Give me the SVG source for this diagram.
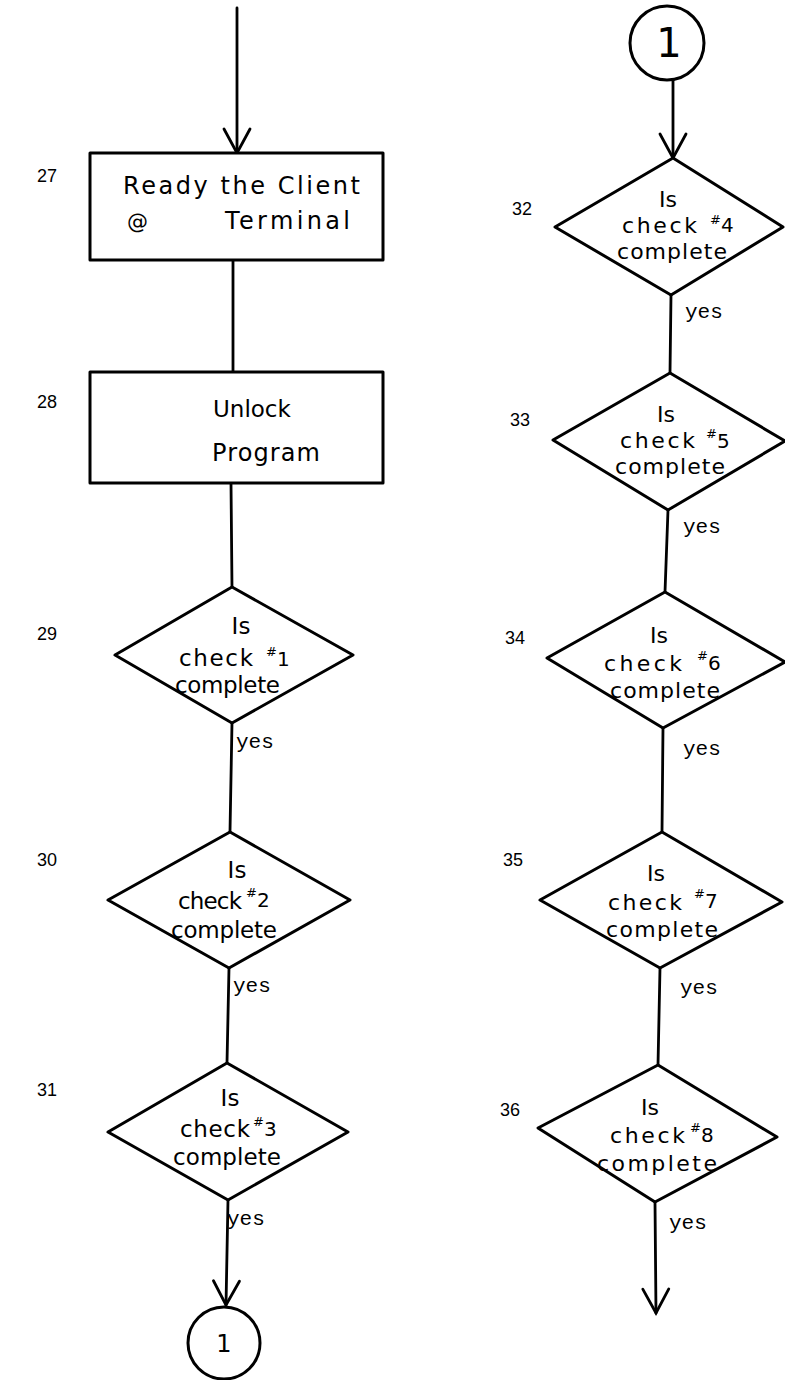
<svg xmlns="http://www.w3.org/2000/svg" width="785" height="1380" viewBox="0 0 785 1380">
<style>
.shape{fill:#fff;stroke:#000;stroke-width:3;stroke-linejoin:round}
.line{fill:none;stroke:#000;stroke-width:2.8;stroke-linecap:round}
.hand{font-family:"DejaVu Sans","Liberation Sans",sans-serif;fill:#000}
.num{font-family:"Liberation Sans",Arial,sans-serif;font-size:18px;fill:#000}
.yes{font-family:"Liberation Mono","Courier New",monospace;font-size:21px;fill:#000}
.sup{font-size:13px}
.sub{font-size:20px}
</style>
<defs>
<marker id="v" markerUnits="userSpaceOnUse" markerWidth="40" markerHeight="40" refX="0" refY="0" orient="auto" overflow="visible">
<path d="M-24,-13 L0,0 L-24,13" fill="none" stroke="#000" stroke-width="2.8" stroke-linecap="round"/>
</marker>
</defs>
<g id="connectors">
<line class="line" x1="237" y1="8" x2="237" y2="153" marker-end="url(#v)"/>
<line class="line" x1="233" y1="260" x2="233" y2="372"/>
<line class="line" x1="231" y1="483" x2="232" y2="587"/>
<line class="line" x1="232" y1="723" x2="230" y2="832"/>
<line class="line" x1="229" y1="968" x2="227" y2="1063"/>
<line class="line" x1="228" y1="1200" x2="226" y2="1305" marker-end="url(#v)"/>
<line class="line" x1="673" y1="80" x2="673" y2="158" marker-end="url(#v)"/>
<line class="line" x1="671" y1="295" x2="670" y2="373"/>
<line class="line" x1="668" y1="510" x2="665" y2="592"/>
<line class="line" x1="663" y1="728" x2="662" y2="832"/>
<line class="line" x1="660" y1="968" x2="658" y2="1065"/>
<line class="line" x1="655" y1="1202" x2="656" y2="1313" marker-end="url(#v)"/>
<text class="yes" x="236" y="748">yes</text>
<text class="yes" x="233" y="992">yes</text>
<text class="yes" x="227" y="1225">yes</text>
<text class="yes" x="685" y="318">yes</text>
<text class="yes" x="683" y="533">yes</text>
<text class="yes" x="683" y="755">yes</text>
<text class="yes" x="680" y="994">yes</text>
<text class="yes" x="669" y="1229">yes</text>
</g>
<g id="n27">
<rect class="shape" x="90" y="153" width="293" height="107"/>
<text class="num" x="37" y="182">27</text>
<text class="hand" x="123" y="194" style="font-size:24px" textLength="237" lengthAdjust="spacing">Ready the Client</text>
<text class="hand" x="127" y="229" style="font-size:21px">@</text>
<text class="hand" x="225" y="229" style="font-size:24px" textLength="125" lengthAdjust="spacing">Terminal</text>
</g>
<g id="n28">
<rect class="shape" x="90" y="372" width="293" height="111"/>
<text class="num" x="37" y="408">28</text>
<text class="hand" x="213" y="417" style="font-size:23px">Unlock</text>
<text class="hand" x="212" y="461" style="font-size:24px" textLength="108" lengthAdjust="spacing">Program</text>
</g>
<g id="n29">
<polygon class="shape" points="232,587 353,655 232,723 115,655"/>
<text class="num" x="37" y="640">29</text>
<text class="hand" x="241" y="634" style="font-size:23px" text-anchor="middle">Is</text>
<text class="hand" x="179" y="666" style="font-size:23px" textLength="74" lengthAdjust="spacing">check</text>
<text class="hand" x="266" y="666" style="font-size:23px"><tspan class="sup" dy="-10">#</tspan><tspan class="sub" dy="10">1</tspan></text>
<text class="hand" x="175" y="693" style="font-size:23px" textLength="105" lengthAdjust="spacing">complete</text>
</g>
<g id="n30">
<polygon class="shape" points="230,832 350,900 229,968 108,900"/>
<text class="num" x="37" y="866">30</text>
<text class="hand" x="237" y="878" style="font-size:23px" text-anchor="middle">Is</text>
<text class="hand" x="178" y="909" style="font-size:23px" textLength="64" lengthAdjust="spacing">check</text>
<text class="hand" x="246" y="905" style="font-size:23px"><tspan class="sup" dy="-8">#</tspan><tspan class="sub" dy="10">2</tspan></text>
<text class="hand" x="171" y="938" style="font-size:23px" textLength="106" lengthAdjust="spacing">complete</text>
</g>
<g id="n31">
<polygon class="shape" points="227,1063 348,1132 228,1200 108,1132"/>
<text class="num" x="37" y="1096">31</text>
<text class="hand" x="230" y="1106" style="font-size:23px" text-anchor="middle">Is</text>
<text class="hand" x="180" y="1137" style="font-size:23px" textLength="70" lengthAdjust="spacing">check</text>
<text class="hand" x="253" y="1134" style="font-size:23px"><tspan class="sup" dy="-8">#</tspan><tspan class="sub" dy="10">3</tspan></text>
<text class="hand" x="173" y="1165" style="font-size:23px" textLength="108" lengthAdjust="spacing">complete</text>
</g>
<g id="c1a">
<circle class="shape" cx="224" cy="1343" r="36"/>
<text class="hand" x="224" y="1352" style="font-size:24px" text-anchor="middle">1</text>
</g>
<g id="c1b">
<circle class="shape" cx="667" cy="43" r="37"/>
<text class="hand" x="669" y="57" style="font-size:40px" text-anchor="middle">1</text>
</g>
<g id="n32">
<polygon class="shape" points="673,158 783,227 671,295 555,227"/>
<text class="num" x="512" y="215">32</text>
<text class="hand" x="668" y="207" style="font-size:22px" text-anchor="middle">Is</text>
<text class="hand" x="622" y="233" style="font-size:22px" textLength="75" lengthAdjust="spacing">check</text>
<text class="hand" x="710" y="232" style="font-size:22px"><tspan class="sup" dy="-8">#</tspan><tspan class="sub" dy="8">4</tspan></text>
<text class="hand" x="617" y="259" style="font-size:22px" textLength="110" lengthAdjust="spacing">complete</text>
</g>
<g id="n33">
<polygon class="shape" points="670,373 785,441 668,510 553,440"/>
<text class="num" x="510" y="426">33</text>
<text class="hand" x="666" y="422" style="font-size:22px" text-anchor="middle">Is</text>
<text class="hand" x="620" y="448" style="font-size:22px" textLength="75" lengthAdjust="spacing">check</text>
<text class="hand" x="706" y="446" style="font-size:22px"><tspan class="sup" dy="-8">#</tspan><tspan class="sub" dy="10">5</tspan></text>
<text class="hand" x="615" y="474" style="font-size:22px" textLength="110" lengthAdjust="spacing">complete</text>
</g>
<g id="n34">
<polygon class="shape" points="665,592 785,662 663,728 547,658"/>
<text class="num" x="505" y="644">34</text>
<text class="hand" x="659" y="643" style="font-size:22px" text-anchor="middle">Is</text>
<text class="hand" x="604" y="671" style="font-size:22px" textLength="78" lengthAdjust="spacing">check</text>
<text class="hand" x="697" y="668" style="font-size:22px"><tspan class="sup" dy="-8">#</tspan><tspan class="sub" dy="10">6</tspan></text>
<text class="hand" x="610" y="698" style="font-size:22px" textLength="110" lengthAdjust="spacing">complete</text>
</g>
<g id="n35">
<polygon class="shape" points="662,832 782,902 660,968 540,900"/>
<text class="num" x="503" y="866">35</text>
<text class="hand" x="656" y="881" style="font-size:22px" text-anchor="middle">Is</text>
<text class="hand" x="608" y="910" style="font-size:22px" textLength="74" lengthAdjust="spacing">check</text>
<text class="hand" x="694" y="906" style="font-size:22px"><tspan class="sup" dy="-8">#</tspan><tspan class="sub" dy="10">7</tspan></text>
<text class="hand" x="606" y="937" style="font-size:22px" textLength="112" lengthAdjust="spacing">complete</text>
</g>
<g id="n36">
<polygon class="shape" points="658,1065 777,1137 655,1202 538,1128"/>
<text class="num" x="500" y="1116">36</text>
<text class="hand" x="650" y="1115" style="font-size:22px" text-anchor="middle">Is</text>
<text class="hand" x="610" y="1143" style="font-size:22px" textLength="75" lengthAdjust="spacing">check</text>
<text class="hand" x="690" y="1140" style="font-size:22px"><tspan class="sup" dy="-8">#</tspan><tspan class="sub" dy="10">8</tspan></text>
<text class="hand" x="597" y="1171" style="font-size:22px" textLength="120" lengthAdjust="spacing">complete</text>
</g>
</svg>
